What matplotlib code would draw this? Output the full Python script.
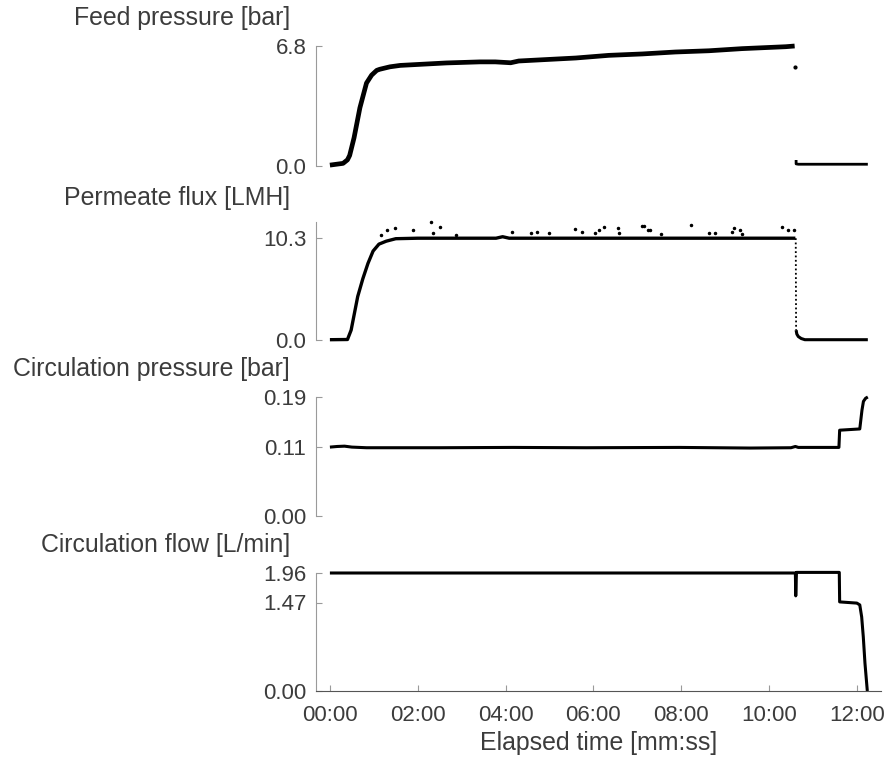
import matplotlib
matplotlib.use('Agg')
import matplotlib.pyplot as plt

# elapsed time in seconds
feed_t = [0, 18, 24, 27, 33, 41, 50, 57, 64, 68, 82, 96, 114, 159, 205, 226, 247, 258, 290, 336, 381, 427, 472, 518, 563, 623, 635]
feed_v = [0.05, 0.15, 0.35, 0.6, 1.6, 3.3, 4.7, 5.15, 5.42, 5.48, 5.62, 5.7, 5.74, 5.84, 5.9, 5.9, 5.85, 5.95, 6.02, 6.12, 6.27, 6.35, 6.46, 6.53, 6.65, 6.76, 6.8]
feed_tail_t = [637, 637, 640, 735]
feed_tail_v = [0.34, 0.12, 0.1, 0.1]
feed_stray_t = [636]
feed_stray_v = [5.6]

flux_t = [0, 24, 29, 38, 45, 52, 59, 67, 77, 90, 120, 227, 236, 245, 636]
flux_v = [0.03, 0.05, 1.0, 4.4, 6.2, 7.75, 9.0, 9.7, 10.0, 10.25, 10.3, 10.3, 10.45, 10.3, 10.3]
flux_drop_t = [636.5, 637]
flux_drop_v = [10.3, 1.0]
flux_tail_t = [637, 638, 640, 644, 649, 735]
flux_tail_v = [1.0, 0.6, 0.35, 0.15, 0.03, 0.03]
flux_out_t = [70, 78, 89, 113, 138, 141, 151, 172, 249, 275, 283, 299, 335, 344, 362, 367, 375,
              394, 395, 426, 429, 434, 437, 453, 494, 518, 526, 549, 552, 560, 563, 618, 626, 634]
flux_out_v = [10.58, 11.12, 11.36, 11.09, 11.94, 10.82, 11.43, 10.61, 10.95, 10.85, 10.95, 10.78, 11.26, 10.95, 10.85, 11.12, 11.46,
              11.33, 10.82, 11.54, 11.54, 11.16, 11.16, 10.75, 11.67, 10.85, 10.85, 10.92, 11.33, 11.1, 10.75, 11.43, 11.16, 11.16]

cp_t = [0, 10, 20, 30, 50, 150, 250, 350, 478, 574, 630, 636, 640, 695.5, 696.5, 724, 727, 729, 732, 735]
cp_v = [0.11, 0.111, 0.1115, 0.11, 0.109, 0.109, 0.1095, 0.109, 0.1095, 0.1085, 0.109, 0.111, 0.1095, 0.1095, 0.137, 0.139, 0.169, 0.183, 0.188, 0.19]

cf_t = [0, 636, 636.5, 637.5, 696, 696.5, 720, 724, 726.6, 728.8, 731.1, 734.3]
cf_v = [1.96, 1.96, 1.58, 1.97, 1.97, 1.48, 1.46, 1.43, 1.23, 0.9, 0.46, 0.0]

titles = ['Feed pressure [bar]', 'Permeate flux [LMH]', 'Circulation pressure [bar]', 'Circulation flow [L/min]']
yticks = [[0, 6.8], [0, 10.3], [0, 0.11, 0.19], [0, 1.47, 1.96]]
ylabels = [['0.0', '6.8'], ['0.0', '10.3'], ['0.00', '0.11', '0.19'], ['0.00', '1.47', '1.96']]
ymax = [6.8, 11.94, 0.19, 1.96]
xticks = [0, 120, 240, 360, 480, 600, 720]

plt.rcParams['font.family'] = ['Liberation Sans', 'DejaVu Sans']
plt.rcParams['font.size'] = 16
TEXT = '#3c3c3c'
SPINE = '#9a9a9a'
LABEL_SIZE = 17.9

fig = plt.figure(figsize=(8.88, 7.61), dpi=100)

# axes boxes in pixels: (top, bottom)
W, H = 888.0, 761.0
rows = [(46, 166), (222, 340), (397, 516), (573, 691)]
title_y = [18, 198, 369, 545]
axes = []
for (top, bot) in rows:
	ax = fig.add_axes([316 / W, 1 - bot / H, (881 - 316) / W, (bot - top) / H])
	axes.append(ax)

line_kw = dict(color='black', clip_on=False, solid_capstyle='butt')

ax = axes[0]
ax.plot(feed_t, feed_v, lw=3.4, **line_kw)
ax.plot(feed_tail_t, feed_tail_v, lw=2.0, **line_kw)
ax.plot(feed_stray_t, feed_stray_v, 'o', ms=2, color='black')

ax = axes[1]
ax.plot(flux_t, flux_v, lw=2.4, **line_kw)
ax.plot(flux_drop_t, flux_drop_v, lw=1.3, ls=(0, (1, 1.4)), color='black')
ax.plot(flux_tail_t, flux_tail_v, lw=2.2, **line_kw)
ax.plot(flux_out_t, flux_out_v, 'o', ms=1.5, color='black', clip_on=False)

ax = axes[2]
ax.plot(cp_t, cp_v, lw=2.2, **line_kw)

ax = axes[3]
ax.plot(cf_t, cf_v, lw=2.2, **line_kw)

for i, ax in enumerate(axes):
	ax.set_xlim(-19, 753)
	ax.set_ylim(0, ymax[i])
	ax.spines['top'].set_visible(False)
	ax.spines['right'].set_visible(False)
	ax.spines['left'].set_color(SPINE)
	ax.set_yticks(yticks[i])
	ax.set_yticklabels(ylabels[i])
	ax.tick_params(axis='y', direction='in', length=4, width=0.8, color=SPINE, labelcolor=TEXT, pad=7)
	if i < 3:
		ax.spines['bottom'].set_visible(False)
		ax.set_xticks([])
	else:
		ax.spines['bottom'].set_color('#555555')
		ax.set_xticks(xticks)
		ax.set_xticklabels(['%02d:%02d' % (t // 60, t % 60) for t in xticks])
		ax.tick_params(axis='x', direction='in', length=4, width=0.8, color=SPINE, labelcolor=TEXT, pad=10)
		ax.set_xlabel('Elapsed time [mm:ss]', color=TEXT, fontsize=LABEL_SIZE, labelpad=4)
	fig.text(290 / W, 1 - title_y[i] / H, titles[i], ha='right', va='center', color=TEXT, fontsize=LABEL_SIZE)

fig.savefig('out.png', dpi=100)
